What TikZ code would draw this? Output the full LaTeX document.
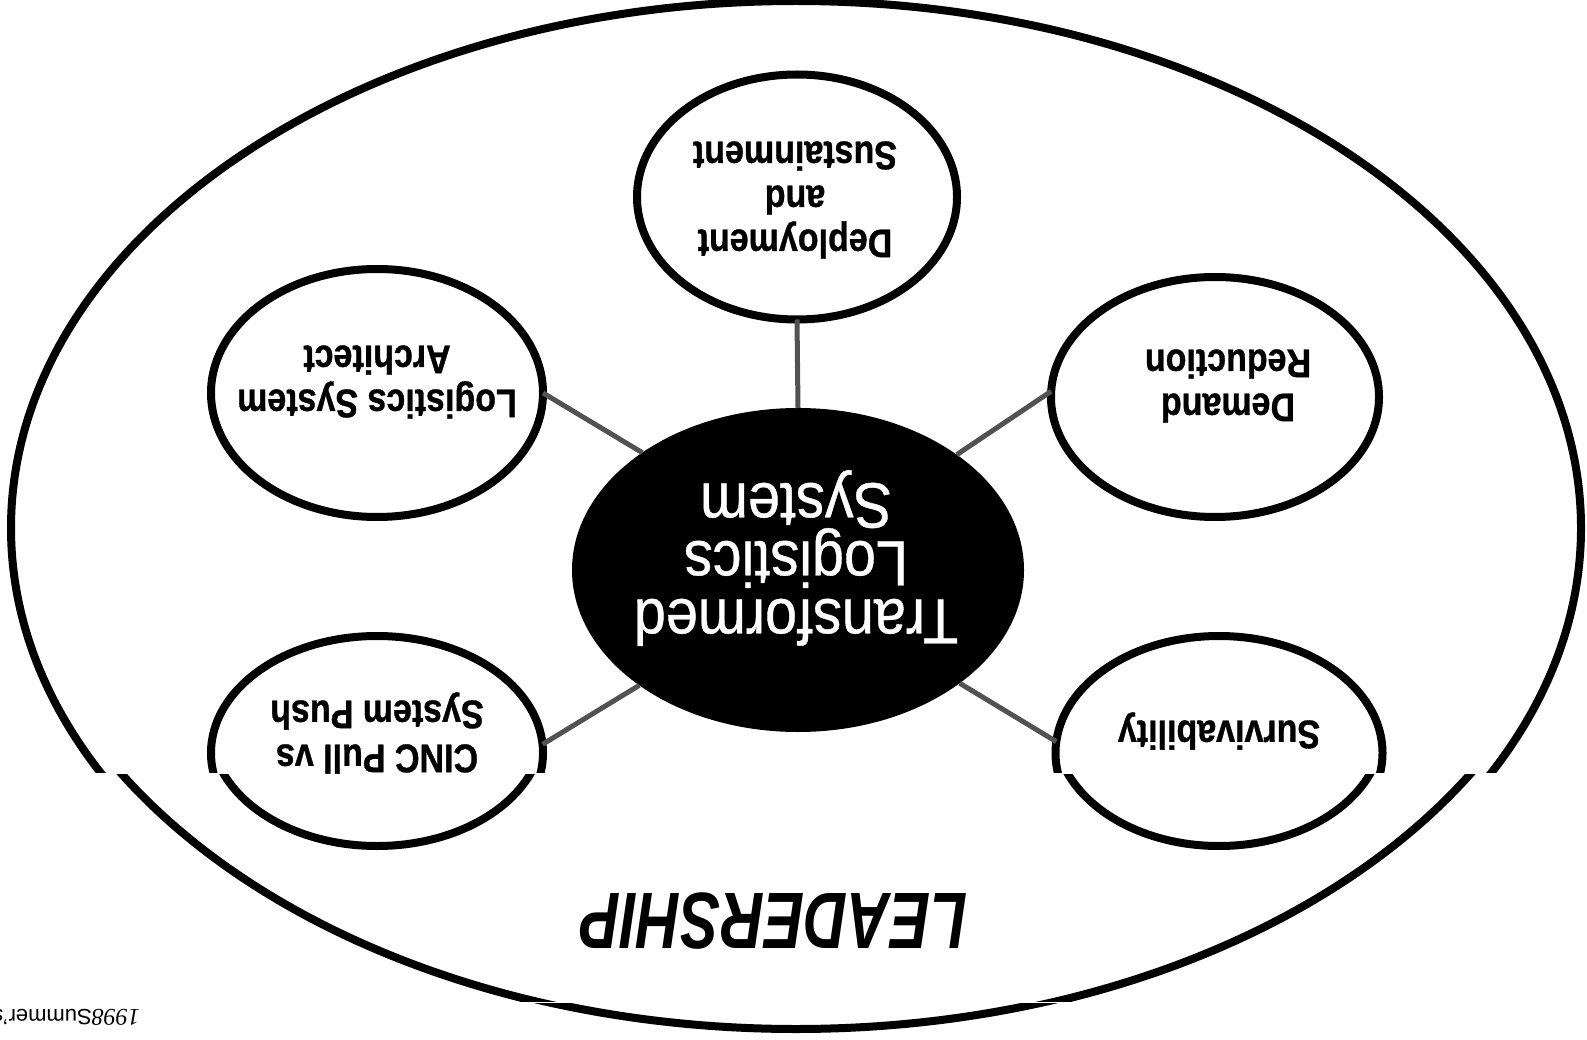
\documentclass[tikz,border=0pt]{standalone}
\usepackage{fontspec}
\setmainfont{Liberation Sans}
\newfontfamily\narrowsans[FakeStretch=0.85,FakeBold=0.8]{Liberation Sans}
\newfontfamily\coresans[FakeStretch=0.9,FakeBold=0.6]{Liberation Sans}
\newfontfamily\leadfont[FakeStretch=0.75]{Liberation Sans}
\newfontfamily\footserif{Liberation Serif}
\usetikzlibrary{shapes.geometric}
\begin{document}
\begin{tikzpicture}[x=1pt,y=-1pt,
  ring/.style={draw=black, line width=8pt, ellipse, inner sep=0pt, outer sep=0pt},
  circ/.style={draw=black, line width=8pt},
  core/.style={ellipse, fill=black, inner sep=0pt, outer sep=0pt, minimum width=452pt, minimum height=324pt},
  link/.style={draw=black!68, line width=5pt},
  smalltxt/.style={rotate=180, align=center, inner sep=0pt, font=\narrowsans\bfseries\fontsize{40}{44}\selectfont},
  coretxt/.style={rotate=180, align=center, inner sep=0pt, text=white, font=\coresans\fontsize{64}{58}\selectfont},
]
\useasboundingbox (0,0) rectangle (1587,1040);
\fill[white] (0,0) rectangle (1587,1040);

% outer ellipse, in three scan bands
\begin{scope}
  \clip (0,0) rectangle (1587,772);
  \draw[circ] (796,528) ellipse [x radius=785pt, y radius=527pt];
\end{scope}
\begin{scope}
  \clip (0,774) rectangle (1587,1001);
  \begin{scope}[yshift=24pt]
    \draw[circ] (796,528) ellipse [x radius=785pt, y radius=527pt];
  \end{scope}
\end{scope}
\begin{scope}
  \clip (0,1003) rectangle (1587,1040);
  \begin{scope}[yshift=26pt]
    \draw[circ] (796,528) ellipse [x radius=785pt, y radius=527pt];
  \end{scope}
\end{scope}

% core
\node[core] (core) at (798,570) {};

% upper circles
\node[ring, minimum width=320pt, minimum height=245pt] (deploy) at (797,197) {};
\node[ring, minimum width=332pt, minimum height=248pt] (lsa) at (377,393) {};
\node[ring, minimum width=328pt, minimum height=240pt] (dr) at (1215,397) {};

% lower circles (cut by the scan band)
\begin{scope}
  \clip (0,0) rectangle (1587,772);
  \node[ring, minimum width=332pt, minimum height=234pt] (cinc) at (377,753) {};
  \node[ring, minimum width=327pt, minimum height=234pt] (surv) at (1219,753) {};
\end{scope}
\begin{scope}
  \clip (0,774) rectangle (1587,1001);
  \begin{scope}[yshift=24pt]
    \draw[circ] (377,753) ellipse [x radius=166pt, y radius=117pt];
    \draw[circ] (1219,753) ellipse [x radius=163.5pt, y radius=117pt];
  \end{scope}
\end{scope}

% connectors
\draw[link] (deploy.south) -- (core.north);
\draw[link] (lsa.0) -- (core.143);
\draw[link] (dr.178) -- (core.36);
\draw[link] (cinc.3) -- (core.216);
\draw[link] (surv.176) -- (core.325);

% texts
\node[coretxt] (coret) at (796,558) {Transformed\\Logistics\\System};
\node[smalltxt] (deployt) at (795,200) {Deployment\\and\\Sustainment};
\node[smalltxt] (lsat) at (377,382) {Logistics System\\Architect};
\node[smalltxt] (drt) at (1228,386) {Demand\\Reduction};
\node[smalltxt] (survt) at (1219,731) {Survivability};
\node[smalltxt] (cinct) at (377,733) {CINC Pull vs\\System Push};
\node[rotate=180, inner sep=0pt, font=\leadfont\bfseries\itshape\fontsize{80}{80}\selectfont] (lead) at (774,921) {LEADERSHIP};
\node[rotate=180, anchor=west, inner sep=0pt, font=\fontsize{22}{22}\selectfont] (foot) at (140,1017) {{\footserif\itshape\fontsize{24}{24}\selectfont 1998}Summer's};
\end{tikzpicture}
\end{document}
